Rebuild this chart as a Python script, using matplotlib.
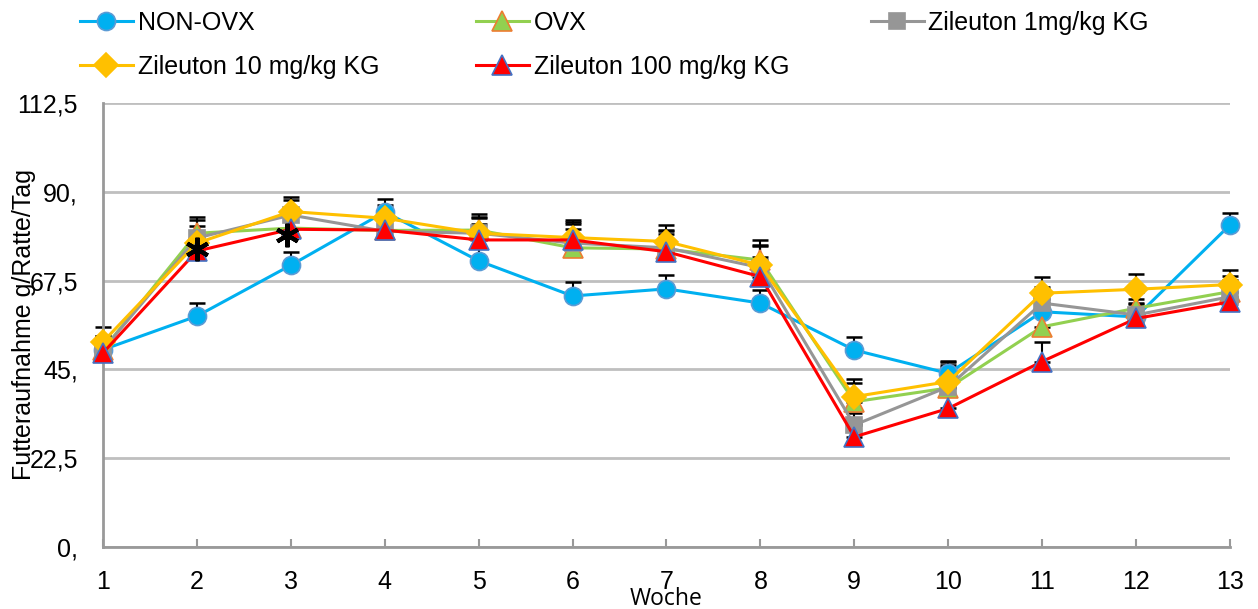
import matplotlib
matplotlib.use("Agg")
import matplotlib.pyplot as plt

plt.rcParams['font.family'] = ['Liberation Sans', 'DejaVu Sans']

weeks = list(range(1, 14))

non_ovx = [50.0, 58.5, 71.4, 84.9, 72.5, 63.6, 65.4, 61.8, 49.9, 44.0, 59.6, 58.3, 81.6]
ovx = [50.0, 79.5, 80.8, 80.2, 80.3, 75.8, 75.5, 72.7, 36.8, 40.3, 55.8, 60.5, 64.7]
zil_1 = [50.0, 78.3, 84.1, 80.0, 79.5, 77.0, 75.8, 70.8, 30.9, 40.6, 61.8, 58.8, 63.4]
zil_10 = [52.0, 77.0, 85.0, 83.3, 79.5, 78.4, 77.4, 71.4, 38.1, 41.9, 64.3, 65.3, 66.5]
zil_100 = [49.2, 75.0, 80.5, 80.3, 77.8, 77.8, 74.8, 68.5, 27.9, 35.1, 47.0, 57.9, 62.1]

err_non_ovx = [3.0, 3.3, 3.4, 3.3, 3.2, 3.6, 3.4, 3.3, 3.4, 3.0, 3.2, 3.2, 3.1]
err_ovx = [3.5, 4.2, 3.8, 3.5, 4.0, 4.8, 4.6, 5.2, 4.8, 5.2, 4.5, 4.0, 4.0]
err_zil_1 = [3.5, 4.5, 3.8, 3.5, 4.2, 4.8, 4.6, 5.4, 3.0, 5.5, 4.2, 4.0, 4.2]
err_zil_10 = [3.8, 4.4, 3.7, 3.4, 3.8, 4.4, 4.2, 5.0, 4.5, 5.2, 4.2, 3.9, 3.8]
err_zil_100 = [3.2, 4.0, 3.6, 3.4, 4.0, 4.6, 4.4, 5.0, 3.5, 5.5, 5.0, 3.8, 3.8]

labels = ['NON-OVX', 'OVX', 'Zileuton 1mg/kg KG', 'Zileuton 10 mg/kg KG', 'Zileuton 100 mg/kg KG']
series = [non_ovx, ovx, zil_1, zil_10, zil_100]
errors = [err_non_ovx, err_ovx, err_zil_1, err_zil_10, err_zil_100]
line_colors = ['#00B0F0', '#92D050', '#969696', '#FFC000', '#FF0000']
face_colors = ['#00B0F0', '#92D050', '#969696', '#FFC000', '#FF0000']
edge_colors = ['#5B9BD5', '#ED7D31', '#969696', '#FFC000', '#4472C4']
markers = ['o', '^', 's', 'D', '^']
msizes = [13, 15, 11, 12, 15]

# Signifikanz-Sterne
star_weeks = [2, 2.96]
star_values = [75.5, 79.0]

yticks = [0, 22.5, 45, 67.5, 90, 112.5]
ytick_labels = ['0,', '22,5', '45,', '67,5', '90,', '112,5']

fig = plt.figure(figsize=(12.58, 6.09), dpi=100)
ax = fig.add_axes([0.0819, 0.1018, 0.8958, 0.7291])

handles = []
for i in range(5):
    ax.errorbar(weeks, series[i], yerr=[[0] * 13, errors[i]], fmt='none',
                ecolor='black', elinewidth=1.5, capsize=6, capthick=1.8,
                zorder=2 + i * 0.1, clip_on=False)
for i in range(5):
    h, = ax.plot(weeks, series[i], color=line_colors[i], linewidth=2.2,
                 marker=markers[i], markersize=msizes[i],
                 markerfacecolor=face_colors[i], markeredgecolor=edge_colors[i],
                 markeredgewidth=1.2, label=labels[i], zorder=3 + i * 0.1,
                 clip_on=False)
    handles.append(h)

ax.plot(star_weeks, star_values, linestyle='none', marker=(6, 2, 0),
        markersize=17, markeredgewidth=3, color='black', zorder=5)

ax.set_xlim(1, 13)
ax.set_ylim(0, 112.5)
ax.set_yticks(yticks)
ax.set_yticklabels(ytick_labels)
ax.set_xticks(weeks)
ax.grid(axis='y', color='#BFBFBF', linewidth=2)
ax.set_axisbelow(True)

for s in ['top', 'right']:
    ax.spines[s].set_visible(False)
for s in ['left', 'bottom']:
    ax.spines[s].set_color('#999999')
    ax.spines[s].set_linewidth(2)

ax.tick_params(axis='y', length=0, pad=18, labelsize=18)
ax.tick_params(axis='x', direction='in', length=6, width=1.5, color='#999999',
               pad=16.5, labelsize=18)

ax.set_ylabel('Futteraufnahme g/Ratte/Tag', fontsize=18)
ax.yaxis.set_label_coords(-0.0595, 0.5)
ax.set_xlabel('Woche', fontsize=16.5, family='Open Sans')
ax.xaxis.set_label_coords(0.5, -0.09)

# Legende in drei Spalten, jede Spalte einzeln platziert
columns = [[0, 3], [1, 4], [2]]
col_x = [80 / 1258, 476 / 1258, 871 / 1258]
for idx, x0 in zip(columns, col_x):
    fig.legend([handles[k] for k in idx], [labels[k] for k in idx],
               loc='upper left', bbox_to_anchor=(x0, 0.982), frameon=False,
               fontsize=18, handlelength=2.1, handletextpad=0.2,
               labelspacing=0.8, borderpad=0, borderaxespad=0)

fig.savefig('out.png', dpi=100)
